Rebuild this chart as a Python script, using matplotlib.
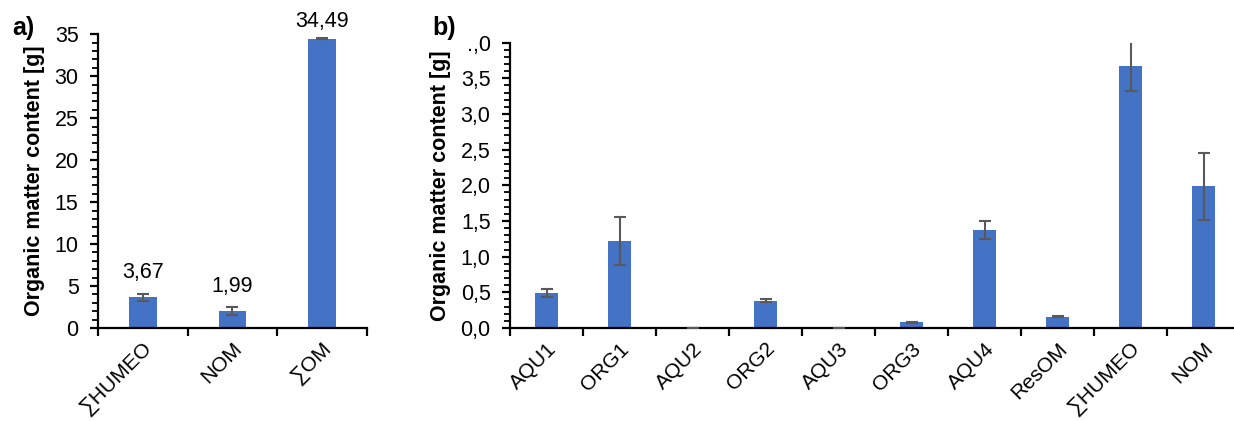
import matplotlib
matplotlib.use("Agg")
import matplotlib.pyplot as plt
from matplotlib.ticker import MultipleLocator, FixedLocator, FuncFormatter
import numpy as np

plt.rcParams['font.family'] = ['Liberation Sans', 'DejaVu Sans']

# Panel a data
cats_a = ["∑HUMEO", "NOM", "∑OM"]
vals_a = [3.67, 1.99, 34.49]
errs_a = [0.40, 0.50, 0.05]
labels_a = ["3,67", "1,99", "34,49"]
yticks_a = [0, 5, 10, 15, 20, 25, 30, 35]

# Panel b data
cats_b = ["AQU1", "ORG1", "AQU2", "ORG2", "AQU3", "ORG3", "AQU4", "ResOM", "∑HUMEO", "NOM"]
vals_b = [0.49, 1.22, 0.005, 0.38, 0.003, 0.08, 1.37, 0.16, 3.68, 1.99]
errs_b = [0.06, 0.34, 0.0, 0.02, 0.0, 0.01, 0.125, 0.01, 0.36, 0.47]
yticks_b = [0.0, 0.5, 1.0, 1.5, 2.0, 2.5, 3.0, 3.5, 4.0]
yticklabels_b = ["0,0", "0,5", "1,0", "1,5", "2,0", "2,5", "3,0", "3,5", ".,0"]

BAR = "#4472C4"
ERR = "#595959"
FS = 15.5
XFS = 15
LABEL_OFFSETS = [10, 10, 5]  # points above bar top (style)

fig = plt.figure(figsize=(12.34, 4.21), dpi=100)
ax_a = fig.add_axes([98/1234, 93/421, 269/1234, 293.7/421])
ax_b = fig.add_axes([510/1234, 93/421, 730/1234, 285.3/421])


def style(ax, cats, ymax, minor):
    n = len(cats)
    x = np.arange(n)
    ax.set_xlim(-0.5, n - 0.5)
    ax.set_ylim(0, ymax)
    for s in ["top", "right"]:
        ax.spines[s].set_visible(False)
    for s in ["left", "bottom"]:
        ax.spines[s].set_linewidth(1.6)
        ax.spines[s].set_color("black")
    ax.xaxis.set_major_locator(FixedLocator(np.arange(n + 1) - 0.5))
    ax.xaxis.set_major_formatter(FuncFormatter(lambda v, p: ""))
    ax.xaxis.set_minor_locator(FixedLocator(x))
    ax.set_xticklabels(cats, minor=True, rotation=45, ha="right", va="top",
                       rotation_mode="anchor", fontsize=XFS)
    ax.tick_params(axis="x", which="major", length=6, width=1.6, direction="out")
    ax.tick_params(axis="x", which="minor", length=0, pad=8)
    ax.yaxis.set_minor_locator(MultipleLocator(minor))
    ax.tick_params(axis="y", which="major", length=6, width=1.6, labelsize=FS, pad=8)
    ax.tick_params(axis="y", which="minor", length=4, width=1.3)
    ax.set_ylabel("Organic matter content [g]", fontsize=FS, fontweight="bold")
    return x


x_a = style(ax_a, cats_a, 35, 1)
ax_a.bar(x_a, vals_a, width=0.31, color=BAR, zorder=2)
ax_a.errorbar(x_a, vals_a, yerr=errs_a, fmt="none", ecolor=ERR, elinewidth=1.5,
              capsize=4, capthick=1.5, zorder=3)
ax_a.set_yticks(yticks_a)
ax_a.set_yticklabels([str(t) for t in yticks_a])
for xi, v, lab, off in zip(x_a, vals_a, labels_a, LABEL_OFFSETS):
    ax_a.annotate(lab, (xi, v), xytext=(0, off), textcoords="offset points",
                  ha="center", va="bottom", fontsize=FS, annotation_clip=False)
ax_a.yaxis.set_label_coords(-0.197, 0.5)

x_b = style(ax_b, cats_b, 4.0, 0.1)
ax_b.bar(x_b, vals_b, width=0.31, color=BAR, zorder=2)
ax_b.errorbar(x_b, vals_b, yerr=errs_b, fmt="none", ecolor=ERR, elinewidth=1.5,
              capsize=4, capthick=1.5, zorder=3)
ax_b.set_yticks(yticks_b)
ax_b.set_yticklabels(yticklabels_b)
ax_b.yaxis.set_label_coords(-0.081, 0.5)

fig.text(12/1234, 1 - 28/421, "a)", fontsize=18, fontweight="bold", va="center")
fig.text(432/1234, 1 - 28/421, "b)", fontsize=18, fontweight="bold", va="center")

fig.savefig("out.png", dpi=100)
